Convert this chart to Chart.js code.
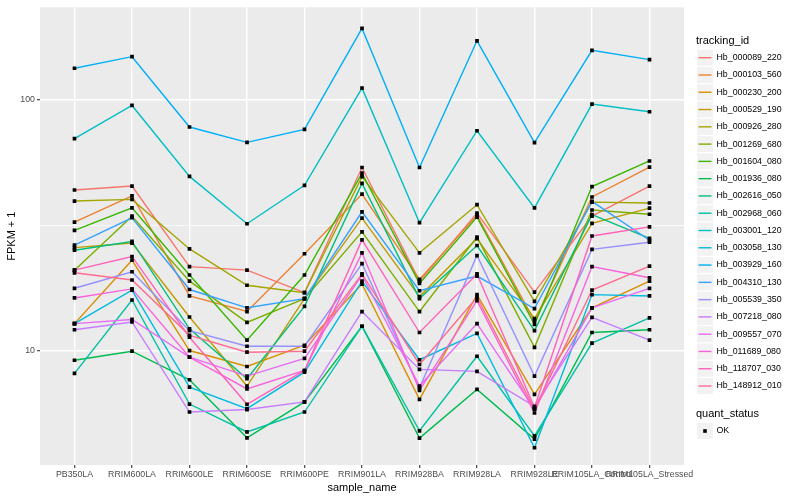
<!DOCTYPE html>
<html>
<head>
<meta charset="utf-8">
<script src="https://cdn.jsdelivr.net/npm/chart.js@4.4.1/dist/chart.umd.min.js"></script>
<style>
  html, body { margin: 0; padding: 0; background: #ffffff; }
  #wrap { width: 800px; height: 500px; }
</style>
</head>
<body>
<div id="wrap"><canvas id="fpkmChart" width="800" height="500"></canvas></div>
<script>
// categories on the x axis
const sampleNames = ['PB350LA', 'RRIM600LA', 'RRIM600LE', 'RRIM600SE', 'RRIM600PE', 'RRIM901LA',
                     'RRIM928BA', 'RRIM928LA', 'RRIM928LE', 'RRIM105LA_Control', 'RRIM105LA_Stressed'];

const trackingIds = ['Hb_000089_220', 'Hb_000103_560', 'Hb_000230_200', 'Hb_000529_190', 'Hb_000926_280',
                     'Hb_001269_680', 'Hb_001604_080', 'Hb_001936_080', 'Hb_002616_050', 'Hb_002968_060',
                     'Hb_003001_120', 'Hb_003058_130', 'Hb_003929_160', 'Hb_004310_130', 'Hb_005539_350',
                     'Hb_007218_080', 'Hb_009557_070', 'Hb_011689_080', 'Hb_118707_030', 'Hb_148912_010'];

// y axis breaks (log10 scale)
const yMajorTicks = [10, 100];
const yMinorTicks = [31.62];

// FPKM + 1, one value per sample
const hb000089 = [43.6, 45.2, 21.6, 20.9, 17.0, 53.6, 18.9, 35.3, 17.1, 34.3, 45.2];
const hb000103 = [32.5, 41.3, 16.5, 14.3, 24.3, 42.0, 19.2, 34.6, 13.1, 40.9, 53.8];
const hb000230 = [12.8, 22.9, 10.0, 8.64, 10.5, 18.4, 6.39, 16.7, 6.69, 14.8, 18.9];
const hb000529 = [25.7, 26.8, 13.6, 7.22, 16.1, 33.7, 16.4, 27.9, 13.4, 32.1, 36.9];
const hb000926 = [39.4, 40.0, 25.4, 18.2, 17.0, 49.3, 24.5, 38.1, 15.7, 39.0, 38.7];
const hb001269 = [20.9, 34.3, 18.9, 12.95, 16.1, 29.7, 14.3, 28.3, 10.3, 36.3, 34.9];
const hb001604 = [30.1, 37.0, 20.0, 11.0, 20.0, 50.9, 18.5, 34.0, 12.7, 45.0, 56.9];
const hb001936 = [9.15, 9.94, 7.65, 4.49, 6.24, 12.5, 4.48, 7.00, 4.44, 11.8, 12.1];
const hb002616 = [25.1, 27.2, 12.2, 7.72, 15.0, 46.3, 16.1, 26.2, 12.0, 34.8, 28.0];
const hb002968 = [8.11, 15.9, 6.12, 4.74, 5.69, 12.5, 4.79, 9.49, 4.57, 10.7, 13.5];
const hb003001 = [69.9, 94.7, 49.4, 32.0, 45.5, 111.0, 32.3, 75.1, 37.0, 95.9, 89.4];
const hb003058 = [12.8, 17.4, 7.15, 5.87, 8.20, 18.9, 9.19, 11.7, 4.10, 16.7, 16.5];
const hb003929 = [133.2, 148.1, 77.7, 67.5, 76.0, 191.9, 53.6, 171.3, 67.3, 157.0, 144.1];
const hb004310 = [26.3, 33.8, 17.5, 14.8, 16.1, 35.7, 17.3, 19.8, 14.7, 39.3, 27.5];
const hb005539 = [17.7, 20.6, 12.0, 10.4, 10.4, 22.2, 7.09, 23.9, 7.91, 25.3, 27.0];
const hb007218 = [12.1, 13.0, 5.69, 5.82, 6.24, 14.3, 8.41, 8.26, 6.00, 13.55, 11.0];
const hb009557 = [12.8, 13.3, 9.41, 7.91, 9.30, 19.95, 7.22, 12.8, 5.84, 14.8, 17.7];
const hb011689 = [16.2, 17.6, 9.41, 7.03, 8.33, 24.5, 6.94, 15.8, 5.64, 21.6, 19.5];
const hb118707 = [20.9, 23.7, 11.3, 6.11, 8.33, 27.6, 11.8, 20.2, 5.93, 28.6, 31.1];
const hb148912 = [20.4, 19.1, 11.5, 9.85, 9.94, 20.2, 8.80, 16.3, 5.84, 17.4, 21.7];

const seriesValues = [hb000089, hb000103, hb000230, hb000529, hb000926, hb001269, hb001604, hb001936,
                      hb002616, hb002968, hb003001, hb003058, hb003929, hb004310, hb005539, hb007218,
                      hb009557, hb011689, hb118707, hb148912];

// ggplot default hue palette for 20 levels
const palette = ['#F8766D', '#EA8331', '#D89000', '#C09B00', '#A3A500', '#7CAE00', '#39B600', '#00BB4E',
                 '#00BF7D', '#00C1A3', '#00BFC4', '#00BAE0', '#00B0F6', '#35A2FF', '#9590FF', '#C77CFF',
                 '#E76BF3', '#FA62DB', '#FF62BC', '#FF6C91'];

const FONT = '"Liberation Sans", Arial, Helvetica, sans-serif';
Chart.defaults.font.family = FONT;

const datasets = trackingIds.map((id, s) => ({
    label: id,
    data: seriesValues[s].map((v, i) => ({ x: i, y: v })),
    borderColor: palette[s],
    borderWidth: 1.4,
    pointRadius: 0,
    fill: false,
    tension: 0,
    order: trackingIds.length - s // later levels on top, like ggplot
}));

// points are drawn after every line
datasets.push({
    label: 'OK',
    data: seriesValues.flatMap(vals => vals.map((v, i) => ({ x: i, y: v }))),
    showLine: false,
    pointStyle: 'rect',
    pointRadius: 2.6,
    pointBackgroundColor: '#000000',
    pointBorderWidth: 0,
    order: 0
});

const panelBg = {
    id: 'panelBg',
    beforeDraw(chart) {
        const { ctx, chartArea: a } = chart;
        ctx.save();
        ctx.fillStyle = '#EBEBEB';
        ctx.fillRect(a.left, a.top, a.right - a.left, a.bottom - a.top);
        ctx.restore();
    }
};

// ggplot style legends on the right
const ggLegend = {
    id: 'ggLegend',
    afterDraw(chart) {
        const ctx = chart.ctx;
        ctx.save();
        ctx.textBaseline = 'middle';
        ctx.textAlign = 'left';
        ctx.fillStyle = '#000000';
        ctx.font = '11px ' + FONT;
        ctx.fillText('tracking_id', 696, 40.5);
        ctx.font = '8.8px ' + FONT;
        trackingIds.forEach((id, i) => {
            const cy = 57.7 + i * 17.28;
            ctx.fillStyle = '#F2F2F2';
            ctx.fillRect(697, cy - 8, 16, 16);
            ctx.strokeStyle = palette[i];
            ctx.lineWidth = 1.4;
            ctx.beginPath();
            ctx.moveTo(698.5, cy);
            ctx.lineTo(711.5, cy);
            ctx.stroke();
            ctx.fillStyle = '#000000';
            ctx.fillText(id, 716.5, cy);
        });
        ctx.font = '11px ' + FONT;
        ctx.fillText('quant_status', 696, 414);
        const ky = 431;
        ctx.fillStyle = '#F2F2F2';
        ctx.fillRect(697, ky - 8, 16, 16);
        ctx.fillStyle = '#000000';
        ctx.fillRect(703.2, ky - 1.8, 3.6, 3.6);
        ctx.font = '8.8px ' + FONT;
        ctx.fillText('OK', 716.5, ky);
        ctx.restore();
    }
};

const isMinor = c => c.tick && yMinorTicks.includes(c.tick.value);

new Chart(document.getElementById('fpkmChart').getContext('2d'), {
    type: 'line',
    data: { datasets: datasets },
    options: {
        responsive: false,
        animation: false,
        layout: { padding: { top: 5, right: 116, bottom: 0, left: 0 } },
        plugins: {
            legend: { display: false },
            tooltip: { enabled: false }
        },
        scales: {
            x: {
                type: 'linear',
                min: -0.6,
                max: 10.6,
                afterBuildTicks: s => { s.ticks = sampleNames.map((_, i) => ({ value: i })); },
                afterFit: s => { s.height = 35; },
                ticks: {
                    callback: v => sampleNames[v],
                    autoSkip: false,
                    maxRotation: 0,
                    minRotation: 0,
                    padding: 1,
                    color: '#4D4D4D',
                    font: { size: 8.8 }
                },
                grid: { color: '#FFFFFF', lineWidth: 1.4, tickLength: 3, tickColor: '#333333', tickWidth: 1.1 },
                border: { display: false },
                title: { display: true, text: 'sample_name', color: '#000000', font: { size: 11 }, padding: { top: 0, bottom: 5.4 } }
            },
            y: {
                type: 'logarithmic',
                min: 3.5,
                max: 233,
                afterBuildTicks: s => { s.ticks = yMajorTicks.concat(yMinorTicks).map(v => ({ value: v })); },
                afterFit: s => { s.width = 40; },
                ticks: {
                    callback: v => yMajorTicks.includes(v) ? String(v) : '',
                    padding: 2,
                    color: '#4D4D4D',
                    font: { size: 8.8 }
                },
                grid: {
                    color: '#FFFFFF',
                    lineWidth: c => isMinor(c) ? 0.7 : 1.4,
                    tickLength: 3,
                    tickColor: c => isMinor(c) ? 'rgba(0,0,0,0)' : '#333333',
                    tickWidth: 1.1
                },
                border: { display: false },
                title: { display: true, text: 'FPKM + 1', color: '#000000', font: { size: 11 }, padding: { top: 5.4, bottom: 0 } }
            }
        }
    },
    plugins: [panelBg, ggLegend]
});
</script>
</body>
</html>
